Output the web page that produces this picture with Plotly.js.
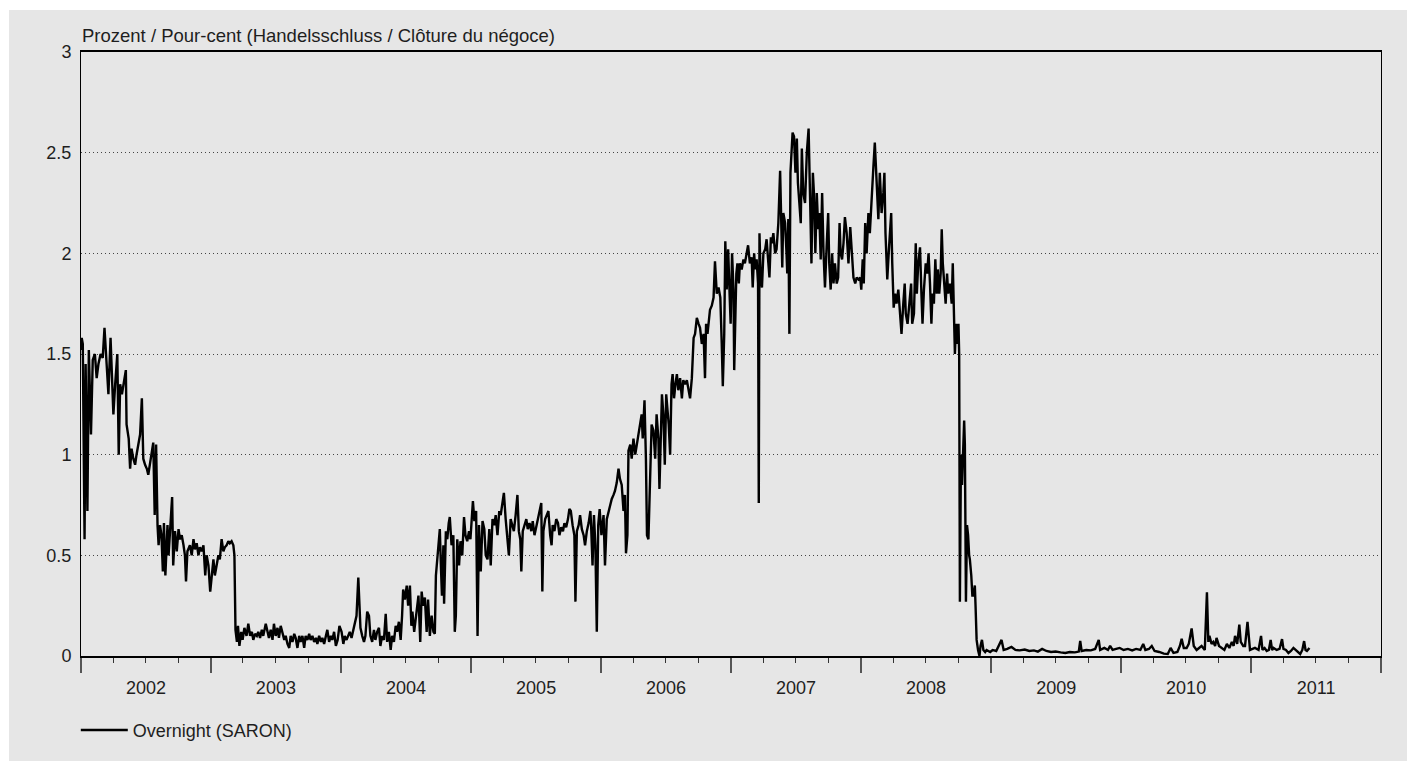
<!DOCTYPE html>
<html>
<head>
<meta charset="utf-8">
<script src="https://cdn.plot.ly/plotly-3.0.1.min.js"></script>
<style>
html,body{margin:0;padding:0;background:#ffffff;}
#chart{position:absolute;left:9px;top:10px;width:1398px;height:751px;}
</style>
</head>
<body>
<div id="chart"></div>
<script>
// ---- Data ----
var d2002 = ['2002-01-02','2002-01-03','2002-01-06','2002-01-11','2002-01-14','2002-01-19','2002-01-23','2002-01-29','2002-02-03','2002-02-09','2002-02-14','2002-02-19','2002-02-25','2002-03-03','2002-03-08','2002-03-12','2002-03-19','2002-03-25','2002-03-30','2002-04-02','2002-04-07','2002-04-13','2002-04-17','2002-04-21','2002-04-26','2002-04-30','2002-05-07','2002-05-09','2002-05-15','2002-05-19','2002-05-23','2002-05-28','2002-06-02','2002-06-06','2002-06-12','2002-06-16','2002-06-21','2002-06-25','2002-06-30','2002-07-05','2002-07-09','2002-07-14','2002-07-19','2002-07-23','2002-07-27','2002-07-31','2002-08-04','2002-08-07','2002-08-11','2002-08-15','2002-08-19','2002-08-22','2002-08-26','2002-09-01','2002-09-04','2002-09-08','2002-09-14','2002-09-17','2002-09-22','2002-09-27','2002-10-02','2002-10-06','2002-10-11','2002-10-16','2002-10-20','2002-10-23','2002-10-27','2002-11-03','2002-11-08','2002-11-13','2002-11-17','2002-11-22','2002-11-27','2002-12-01','2002-12-06','2002-12-11','2002-12-16','2002-12-20','2002-12-25','2002-12-30'];
var v2002 = [1.52,1.58,1.55,0.58,1.45,0.72,1.52,1.10,1.47,1.50,1.38,1.45,1.50,1.48,1.63,1.52,1.30,1.58,1.38,1.20,1.35,1.50,1.00,1.35,1.30,1.35,1.42,1.15,1.08,0.93,1.03,0.98,0.95,1.00,1.05,1.10,1.28,0.98,0.95,0.93,0.90,0.96,1.03,1.06,0.70,1.05,0.65,0.55,0.65,0.60,0.42,0.66,0.40,0.65,0.50,0.60,0.79,0.45,0.62,0.52,0.63,0.58,0.60,0.55,0.50,0.37,0.52,0.55,0.50,0.58,0.53,0.56,0.50,0.54,0.52,0.55,0.40,0.50,0.45,0.32];

var d2003 = ['2003-01-03','2003-01-08','2003-01-12','2003-01-17','2003-01-22','2003-01-26','2003-01-31','2003-02-05','2003-02-09','2003-02-14','2003-02-19','2003-02-23','2003-02-28','2003-03-05','2003-03-08','2003-03-11','2003-03-15','2003-03-18','2003-03-22','2003-03-27','2003-03-31','2003-04-05','2003-04-11','2003-04-16','2003-04-21','2003-04-26','2003-04-30','2003-05-05','2003-05-10','2003-05-14','2003-05-19','2003-05-24','2003-05-28','2003-06-04','2003-06-09','2003-06-13','2003-06-18','2003-06-23','2003-06-27','2003-07-02','2003-07-07','2003-07-11','2003-07-16','2003-07-21','2003-07-26','2003-07-30','2003-08-04','2003-08-09','2003-08-13','2003-08-18','2003-08-23','2003-08-27','2003-09-01','2003-09-06','2003-09-10','2003-09-15','2003-09-20','2003-09-24','2003-09-29','2003-10-04','2003-10-08','2003-10-13','2003-10-18','2003-10-23','2003-10-27','2003-11-01','2003-11-06','2003-11-10','2003-11-15','2003-11-20','2003-11-24','2003-11-29','2003-12-04','2003-12-08','2003-12-13','2003-12-18','2003-12-23','2003-12-28'];
var v2003 = [0.38,0.48,0.40,0.45,0.50,0.48,0.58,0.52,0.54,0.55,0.57,0.56,0.57,0.55,0.50,0.13,0.07,0.15,0.05,0.12,0.08,0.14,0.10,0.16,0.10,0.12,0.08,0.11,0.10,0.12,0.09,0.13,0.10,0.16,0.12,0.09,0.13,0.08,0.16,0.10,0.14,0.09,0.15,0.12,0.08,0.10,0.06,0.04,0.10,0.07,0.11,0.09,0.04,0.10,0.07,0.10,0.04,0.10,0.08,0.11,0.08,0.10,0.07,0.09,0.06,0.10,0.07,0.09,0.06,0.10,0.13,0.07,0.10,0.08,0.12,0.05,0.08,0.15];

var d2004 = ['2004-01-03','2004-01-08','2004-01-12','2004-01-17','2004-01-22','2004-01-26','2004-01-31','2004-02-05','2004-02-09','2004-02-14','2004-02-19','2004-02-22','2004-02-25','2004-03-01','2004-03-06','2004-03-10','2004-03-15','2004-03-20','2004-03-24','2004-03-29','2004-04-03','2004-04-07','2004-04-12','2004-04-17','2004-04-21','2004-04-26','2004-05-01','2004-05-06','2004-05-10','2004-05-15','2004-05-20','2004-05-24','2004-05-29','2004-06-03','2004-06-07','2004-06-12','2004-06-17','2004-06-21','2004-06-24','2004-06-29','2004-07-04','2004-07-08','2004-07-13','2004-07-17','2004-07-20','2004-07-25','2004-07-30','2004-08-03','2004-08-06','2004-08-11','2004-08-15','2004-08-19','2004-08-24','2004-08-29','2004-09-02','2004-09-07','2004-09-12','2004-09-17','2004-09-21','2004-09-24','2004-09-28','2004-10-02','2004-10-05','2004-10-08','2004-10-11','2004-10-15','2004-10-17','2004-10-22','2004-10-26','2004-10-30','2004-11-02','2004-11-07','2004-11-12','2004-11-16','2004-11-19','2004-11-23','2004-11-28','2004-12-02','2004-12-07','2004-12-12','2004-12-16','2004-12-21','2004-12-26','2004-12-30'];
var v2004 = [0.12,0.06,0.10,0.08,0.10,0.12,0.09,0.13,0.15,0.20,0.39,0.20,0.14,0.10,0.07,0.10,0.22,0.20,0.10,0.07,0.13,0.08,0.12,0.14,0.05,0.10,0.08,0.21,0.07,0.12,0.03,0.10,0.07,0.15,0.12,0.17,0.08,0.20,0.33,0.28,0.35,0.25,0.35,0.15,0.22,0.12,0.20,0.25,0.30,0.07,0.32,0.25,0.29,0.12,0.28,0.10,0.20,0.12,0.11,0.40,0.48,0.55,0.63,0.45,0.30,0.55,0.26,0.62,0.58,0.66,0.69,0.55,0.60,0.12,0.20,0.58,0.45,0.57,0.50,0.69,0.60,0.57,0.62,0.58];

var d2005 = ['2005-01-06','2005-01-10','2005-01-15','2005-01-19','2005-01-23','2005-01-28','2005-02-02','2005-02-07','2005-02-11','2005-02-16','2005-02-21','2005-02-25','2005-03-02','2005-03-07','2005-03-11','2005-03-16','2005-03-21','2005-03-25','2005-03-30','2005-04-03','2005-04-08','2005-04-12','2005-04-17','2005-04-22','2005-04-26','2005-05-01','2005-05-06','2005-05-11','2005-05-15','2005-05-19','2005-05-22','2005-05-26','2005-05-31','2005-06-05','2005-06-09','2005-06-14','2005-06-19','2005-06-23','2005-06-28','2005-07-03','2005-07-07','2005-07-12','2005-07-17','2005-07-20','2005-07-23','2005-07-28','2005-08-02','2005-08-06','2005-08-11','2005-08-15','2005-08-18','2005-08-23','2005-08-28','2005-09-02','2005-09-06','2005-09-11','2005-09-16','2005-09-20','2005-09-25','2005-09-30','2005-10-04','2005-10-08','2005-10-13','2005-10-18','2005-10-21','2005-10-25','2005-10-30','2005-11-03','2005-11-08','2005-11-13','2005-11-17','2005-11-22','2005-11-27','2005-12-02','2005-12-04','2005-12-08','2005-12-12','2005-12-16','2005-12-20','2005-12-24','2005-12-28'];
var v2005 = [0.77,0.67,0.72,0.10,0.65,0.42,0.67,0.63,0.50,0.48,0.63,0.45,0.68,0.65,0.70,0.60,0.72,0.70,0.75,0.81,0.68,0.60,0.50,0.68,0.65,0.62,0.70,0.80,0.62,0.58,0.42,0.62,0.65,0.68,0.63,0.66,0.62,0.67,0.60,0.64,0.68,0.72,0.76,0.32,0.62,0.68,0.70,0.72,0.60,0.55,0.65,0.62,0.68,0.66,0.60,0.64,0.62,0.66,0.64,0.68,0.73,0.72,0.65,0.60,0.27,0.62,0.65,0.70,0.63,0.60,0.55,0.62,0.66,0.72,0.65,0.45,0.70,0.55,0.12,0.65,0.73];

var d2006 = ['2006-01-02','2006-01-08','2006-01-12','2006-01-17','2006-01-22','2006-01-26','2006-01-31','2006-02-05','2006-02-09','2006-02-14','2006-02-19','2006-02-23','2006-02-28','2006-03-05','2006-03-09','2006-03-12','2006-03-16','2006-03-19','2006-03-24','2006-03-28','2006-04-02','2006-04-07','2006-04-11','2006-04-16','2006-04-21','2006-04-25','2006-04-28','2006-05-03','2006-05-07','2006-05-10','2006-05-14','2006-05-19','2006-05-23','2006-05-28','2006-06-02','2006-06-06','2006-06-11','2006-06-14','2006-06-18','2006-06-21','2006-06-25','2006-06-29','2006-07-03','2006-07-06','2006-07-10','2006-07-14','2006-07-18','2006-07-21','2006-07-25','2006-07-29','2006-08-02','2006-08-06','2006-08-11','2006-08-16','2006-08-20','2006-08-25','2006-08-30','2006-09-03','2006-09-08','2006-09-13','2006-09-18','2006-09-22','2006-09-27','2006-10-02','2006-10-06','2006-10-11','2006-10-16','2006-10-20','2006-10-23','2006-10-27','2006-10-31','2006-11-03','2006-11-08','2006-11-13','2006-11-17','2006-11-22','2006-11-27','2006-12-02','2006-12-06','2006-12-09','2006-12-13','2006-12-16','2006-12-20','2006-12-24','2006-12-28','2006-12-31'];
var v2006 = [0.60,0.70,0.45,0.68,0.72,0.75,0.78,0.80,0.82,0.86,0.93,0.88,0.85,0.72,0.80,0.51,0.60,1.02,1.05,0.98,1.08,1.00,1.05,1.10,1.15,1.20,1.08,1.27,0.98,0.60,0.58,0.90,1.15,1.12,0.98,1.20,1.08,0.83,1.10,1.30,1.20,0.95,1.30,1.25,1.15,1.00,1.35,1.40,1.28,1.35,1.40,1.32,1.38,1.28,1.37,1.35,1.37,1.33,1.28,1.38,1.58,1.60,1.68,1.65,1.63,1.55,1.60,1.38,1.65,1.60,1.68,1.72,1.74,1.78,1.96,1.80,1.83,1.78,1.55,1.34,1.60,2.06,1.82,2.02,1.80,1.65];

var d2007 = ['2007-01-04','2007-01-08','2007-01-10','2007-01-13','2007-01-16','2007-01-19','2007-01-23','2007-01-26','2007-01-31','2007-02-05','2007-02-09','2007-02-14','2007-02-18','2007-02-23','2007-02-28','2007-03-03','2007-03-07','2007-03-10','2007-03-14','2007-03-18','2007-03-20','2007-03-22','2007-03-25','2007-03-29','2007-04-02','2007-04-07','2007-04-11','2007-04-16','2007-04-19','2007-04-23','2007-04-26','2007-04-30','2007-05-05','2007-05-09','2007-05-14','2007-05-19','2007-05-22','2007-05-25','2007-05-28','2007-06-02','2007-06-06','2007-06-08','2007-06-11','2007-06-14','2007-06-17','2007-06-21','2007-06-23','2007-06-27','2007-07-01','2007-07-05','2007-07-08','2007-07-12','2007-07-16','2007-07-19','2007-07-23','2007-07-28','2007-08-02','2007-08-07','2007-08-11','2007-08-15','2007-08-19','2007-08-22','2007-08-26','2007-08-30','2007-09-03','2007-09-06','2007-09-10','2007-09-14','2007-09-18','2007-09-22','2007-09-27','2007-10-01','2007-10-04','2007-10-08','2007-10-12','2007-10-16','2007-10-20','2007-10-25','2007-10-29','2007-11-02','2007-11-05','2007-11-09','2007-11-13','2007-11-17','2007-11-22','2007-11-27','2007-12-02','2007-12-06','2007-12-11','2007-12-16','2007-12-20','2007-12-25','2007-12-30'];
var v2007 = [2.00,1.82,1.42,1.60,1.90,1.95,1.85,1.95,1.92,1.97,1.95,2.00,2.04,1.95,1.98,1.83,2.00,1.92,1.97,1.85,0.76,2.10,1.90,1.83,2.00,2.02,2.07,1.95,1.88,2.08,2.05,2.10,2.00,2.02,2.15,2.41,2.10,1.93,2.20,2.15,2.00,1.90,2.17,1.60,2.40,2.55,2.60,2.58,2.40,2.57,2.35,2.25,2.15,2.52,2.30,2.25,2.50,2.62,2.30,1.95,2.40,2.30,2.00,2.30,2.12,2.20,1.97,2.30,2.00,1.83,2.05,2.20,1.95,1.82,2.00,1.85,1.95,1.85,1.88,2.15,2.00,1.97,2.05,2.18,2.10,1.95,2.13,2.00,1.88,1.85,1.88,1.87,1.88];

var d2008 = ['2008-01-02','2008-01-06','2008-01-09','2008-01-13','2008-01-17','2008-01-22','2008-01-26','2008-01-31','2008-02-05','2008-02-09','2008-02-14','2008-02-19','2008-02-23','2008-02-28','2008-03-04','2008-03-07','2008-03-10','2008-03-15','2008-03-19','2008-03-23','2008-03-26','2008-03-29','2008-04-02','2008-04-06','2008-04-10','2008-04-15','2008-04-20','2008-04-24','2008-04-29','2008-05-03','2008-05-06','2008-05-11','2008-05-16','2008-05-21','2008-05-24','2008-05-29','2008-06-03','2008-06-06','2008-06-10','2008-06-15','2008-06-19','2008-06-22','2008-06-26','2008-07-01','2008-07-05','2008-07-09','2008-07-13','2008-07-17','2008-07-20','2008-07-24','2008-07-28','2008-08-01','2008-08-04','2008-08-08','2008-08-12','2008-08-15','2008-08-18','2008-08-22','2008-08-26','2008-08-30','2008-09-02','2008-09-07','2008-09-12','2008-09-15','2008-09-18','2008-09-21','2008-09-24','2008-09-28','2008-10-01','2008-10-03','2008-10-05','2008-10-08','2008-10-11','2008-10-14','2008-10-17','2008-10-19','2008-10-22','2008-10-25','2008-10-28','2008-10-31','2008-11-02','2008-11-06','2008-11-09','2008-11-12','2008-11-16','2008-11-18','2008-11-21','2008-11-25','2008-11-29','2008-12-02','2008-12-06','2008-12-10','2008-12-15','2008-12-19','2008-12-24','2008-12-29'];
var v2008 = [1.82,1.97,1.85,2.15,2.00,2.20,2.10,2.30,2.43,2.55,2.35,2.17,2.40,2.20,2.30,2.40,2.10,1.87,2.00,2.10,2.20,1.95,1.73,1.80,1.75,1.82,1.72,1.60,1.75,1.85,1.70,1.65,1.75,1.85,1.65,1.70,2.05,1.80,1.95,2.03,1.80,1.65,1.82,1.95,1.90,2.00,1.85,1.65,1.80,1.75,1.97,1.80,1.92,1.80,1.90,2.12,1.95,1.85,1.75,1.90,1.80,1.85,1.75,1.95,1.70,1.50,1.65,1.55,1.65,1.50,0.27,1.00,0.85,1.00,1.17,1.05,0.27,0.65,0.60,0.50,0.48,0.40,0.30,0.30,0.35,0.25,0.08,0.03,0.00,0.05,0.08,0.03,0.02,0.03,0.025,0.02];

var d2009 = ['2009-01-05','2009-01-15','2009-01-30','2009-02-05','2009-02-15','2009-02-27','2009-03-10','2009-03-22','2009-04-05','2009-04-18','2009-05-01','2009-05-12','2009-05-24','2009-06-05','2009-06-18','2009-07-01','2009-07-15','2009-07-28','2009-08-10','2009-08-24','2009-09-04','2009-09-08','2009-09-12','2009-09-25','2009-10-08','2009-10-20','2009-10-30','2009-11-03','2009-11-15','2009-11-25','2009-12-01','2009-12-08','2009-12-18','2009-12-28'];
var v2009 = [0.03,0.025,0.08,0.03,0.035,0.045,0.03,0.028,0.032,0.025,0.028,0.022,0.035,0.025,0.02,0.022,0.018,0.015,0.02,0.018,0.022,0.075,0.025,0.03,0.028,0.035,0.08,0.03,0.04,0.03,0.05,0.03,0.035,0.04];

var d2010 = ['2010-01-08','2010-01-20','2010-02-01','2010-02-12','2010-02-24','2010-03-04','2010-03-10','2010-03-20','2010-03-28','2010-04-05','2010-04-18','2010-05-01','2010-05-12','2010-05-20','2010-05-28','2010-06-08','2010-06-15','2010-06-20','2010-06-26','2010-07-04','2010-07-10','2010-07-18','2010-07-24','2010-08-01','2010-08-08','2010-08-15','2010-08-24','2010-08-30','2010-09-03','2010-09-06','2010-09-12','2010-09-17','2010-09-22','2010-09-26','2010-10-03','2010-10-10','2010-10-18','2010-10-25','2010-11-01','2010-11-08','2010-11-13','2010-11-17','2010-11-23','2010-11-29','2010-12-03','2010-12-10','2010-12-15','2010-12-22','2010-12-26','2010-12-29'];
var v2010 = [0.03,0.035,0.028,0.035,0.03,0.06,0.03,0.035,0.05,0.025,0.02,0.012,0.01,0.04,0.015,0.02,0.05,0.085,0.04,0.04,0.06,0.137,0.05,0.03,0.04,0.05,0.03,0.317,0.07,0.10,0.06,0.07,0.05,0.09,0.05,0.04,0.03,0.06,0.04,0.07,0.05,0.10,0.06,0.156,0.07,0.05,0.05,0.17,0.06,0.03];

var d2011 = ['2011-01-05','2011-01-12','2011-01-22','2011-01-29','2011-02-02','2011-02-08','2011-02-14','2011-02-20','2011-02-25','2011-03-01','2011-03-05','2011-03-14','2011-03-22','2011-03-29','2011-04-02','2011-04-09','2011-04-16','2011-04-23','2011-04-30','2011-05-09','2011-05-19','2011-05-25','2011-05-30','2011-06-03','2011-06-07','2011-06-14'];
var v2011 = [0.035,0.04,0.03,0.10,0.03,0.04,0.025,0.03,0.08,0.03,0.04,0.03,0.035,0.084,0.035,0.03,0.015,0.025,0.04,0.025,0.01,0.03,0.074,0.03,0.025,0.04];

var yTickVals = [0, 0.5, 1, 1.5, 2, 2.5, 3];
var yTickText = ['0', '0.5', '1', '1.5', '2', '2.5', '3'];
var seriesName = 'Overnight (SARON)';
var yTitle = 'Prozent / Pour-cent (Handelsschluss / Clôture du négoce)';

// ---- Build ----
var xs = [].concat(d2002, d2003, d2004, d2005, d2006, d2007, d2008, d2009, d2010, d2011);
var ys = [].concat(v2002, v2003, v2004, v2005, v2006, v2007, v2008, v2009, v2010, v2011);

var FONT = 'Liberation Sans, Arial, Helvetica, sans-serif';
var TXT = '#1e1e1e';

var trace = {
  type: 'scatter', mode: 'lines', name: seriesName,
  x: xs, y: ys,
  line: {color: '#000000', width: 2.4},
  hoverinfo: 'x+y'
};

var layout = {
  width: 1398, height: 751,
  paper_bgcolor: '#e6e6e6', plot_bgcolor: '#e6e6e6',
  margin: {l: 72, r: 26, t: 42, b: 101, pad: 0},
  font: {family: FONT, size: 18, color: TXT},
  showlegend: true,
  legend: {
    orientation: 'h', x: -0.004, xanchor: 'left', y: -0.123, yanchor: 'middle',
    bgcolor: 'rgba(0,0,0,0)', font: {family: FONT, size: 18, color: TXT},
    itemwidth: 47
  },
  xaxis: {
    type: 'date',
    range: ['2002-01-01', '2012-01-01'],
    tickmode: 'linear', tick0: '2002-01-01', dtick: 'M12',
    tickformat: '%Y', ticklabelmode: 'period',
    ticks: 'outside', ticklen: 15, tickwidth: 2, tickcolor: '#555555',
    showgrid: false, zeroline: false,
    showline: true, linecolor: '#000000', linewidth: 1.5, mirror: true,
    tickfont: {family: FONT, size: 18, color: TXT},
    minor: {dtick: 'M3', tick0: '2002-01-01', ticks: 'outside', ticklen: 5, tickwidth: 1, tickcolor: '#333333', showgrid: false}
  },
  yaxis: {
    range: [0, 3], tickmode: 'array', tickvals: yTickVals, ticktext: yTickText,
    ticks: '', showgrid: true, gridcolor: '#444444', gridwidth: 1, griddash: '1px,3px',
    zeroline: false, showline: true, linecolor: '#000000', linewidth: 1, mirror: true,
    tickfont: {family: FONT, size: 18, color: TXT},
    ticklabelstandoff: 5
  },
  annotations: [{
    xref: 'paper', yref: 'paper', x: 0, y: 1, xanchor: 'left', yanchor: 'bottom',
    xshift: -1, yshift: 4, showarrow: false, text: yTitle,
    font: {family: FONT, size: 18.5, color: TXT}
  }]
};

Plotly.newPlot('chart', [trace], layout, {displayModeBar: false, staticPlot: false});
</script>
</body>
</html>
